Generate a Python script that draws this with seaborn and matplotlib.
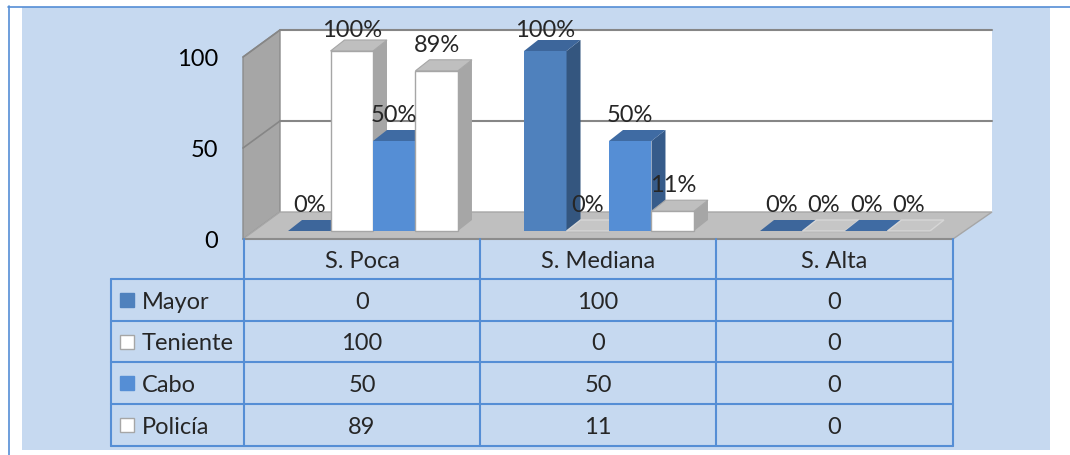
import matplotlib
matplotlib.use("Agg")
import matplotlib.pyplot as plt
from matplotlib.patches import Polygon, Rectangle
import pandas as pd
import seaborn as sns

# ---- data -------------------------------------------------------------
niveles = ["S. Poca", "S. Mediana", "S. Alta"]
rangos = ["Mayor", "Teniente", "Cabo", "Policía"]
mayor = [0, 100, 0]
teniente = [100, 0, 0]
cabo = [50, 50, 0]
policia = [89, 11, 0]
ticks_y = [0, 50, 100]

valores = {"Mayor": mayor, "Teniente": teniente, "Cabo": cabo, "Policía": policia}
df = pd.DataFrame(
    [(n, r, valores[r][i]) for r in rangos for i, n in enumerate(niveles)],
    columns=["nivel", "rango", "valor"],
)

# ---- styles -----------------------------------------------------------
PANEL = "#C6D9F0"
TABLE_LINE = "#558ED5"
front_col = {"Mayor": "#4F81BD", "Teniente": "#FFFFFF", "Cabo": "#558ED5", "Policía": "#FFFFFF"}
top_col = {"Mayor": "#3D669B", "Teniente": "#BFBFBF", "Cabo": "#3F6BA3", "Policía": "#BFBFBF"}
side_col = {"Mayor": "#34567F", "Teniente": "#A6A6A6", "Cabo": "#365B8A", "Policía": "#A6A6A6"}
white_like = {"Teniente", "Policía"}

sns.set_theme(style="white")
plt.rcParams["font.family"] = ["Lato", "DejaVu Sans"]
FS = 17

W, H = 1070, 456
fig = plt.figure(figsize=(W / 100, H / 100), dpi=100)
fig.patch.set_facecolor("white")

# background layer works in pixel units (y downwards)
bg = fig.add_axes([0, 0, 1, 1])
bg.set_xlim(0, W)
bg.set_ylim(H, 0)
bg.axis("off")

# panel
bg.add_patch(Rectangle((22, 8), 1050 - 22, 451 - 8, facecolor=PANEL, edgecolor="none"))
bg.plot([8, W], [7.5, 7.5], color=TABLE_LINE, lw=1.2)
bg.plot([8.5, 8.5], [7, H], color=TABLE_LINE, lw=1.2)

# 3-D walls
FL, BL, BR, FR = 243, 280, 992, 953      # floor corners (x)
FY, BY = 240, 213                        # front / back floor (y)
WALL_PX = 1.82                           # pixels per unit on the walls
top_b = BY - 100 * WALL_PX
top_f = FY - 100 * WALL_PX
bg.add_patch(Rectangle((BL, top_b), BR - BL, BY - top_b, facecolor="white", edgecolor="none"))
bg.add_patch(Polygon([(FL, top_f), (BL, top_b), (BL, BY), (FL, FY)],
                     closed=True, facecolor="#A6A6A6", edgecolor="#8C8C8C", lw=1.0))
bg.add_patch(Polygon([(FL, FY), (BL, BY), (BR, BY), (FR, FY)],
                     closed=True, facecolor="#BFBFBF", edgecolor="#A6A6A6", lw=1.0))
bg.plot([FL, FR], [FY, FY], color="#8C8C8C", lw=1.5)
for v in ticks_y[1:]:
    yb = BY - v * WALL_PX
    yf = FY - v * WALL_PX
    bg.plot([BL, BR], [yb, yb], color="#868686", lw=1.5)
    bg.plot([FL, BL], [yf, yb], color="#868686", lw=1.2)
for v in ticks_y:
    bg.text(218, FY - v * WALL_PX + 8, str(v), ha="right", va="baseline", fontsize=FS, color="black")

# data table
col_x = [244, 480, 716, 953]
leg_x = 111
row_y = [240, 280, 322, 363, 405, 447]
for x in col_x:
    bg.plot([x, x], [row_y[0], row_y[-1]], color=TABLE_LINE, lw=1.5)
bg.plot([leg_x, leg_x], [row_y[1], row_y[-1]], color=TABLE_LINE, lw=1.5)
for y in row_y[1:]:
    bg.plot([leg_x, col_x[-1]], [y, y], color=TABLE_LINE, lw=1.5)
for j, n in enumerate(niveles):
    cx = (col_x[j] + col_x[j + 1]) / 2
    bg.text(cx, (row_y[0] + row_y[1]) / 2 + 8, n, ha="center", va="baseline", fontsize=FS)
for i, r in enumerate(rangos):
    cy = (row_y[i + 1] + row_y[i + 2]) / 2
    edge = "#A6A6A6" if r in white_like else front_col[r]
    bg.add_patch(Rectangle((120, cy - 7), 14, 14, facecolor=front_col[r], edgecolor=edge, lw=1.0))
    bg.text(142, cy + 8, r, ha="left", va="baseline", fontsize=FS)
    for j in range(len(niveles)):
        cx = (col_x[j] + col_x[j + 1]) / 2
        bg.text(cx, cy + 8, str(valores[r][j]), ha="center", va="baseline", fontsize=FS)

# ---- bars -------------------------------------------------------------
CAT_PX = 236        # pixels per category
GROUP_X0 = 373      # pixel centre of the first group of front faces
BASE_PX = 232       # pixel row of the value 0 on the bar plane
VAL_PX = 1.8        # pixels per unit on the bar plane

ax = fig.add_axes([0, 0, 1, 1], zorder=2)
ax.patch.set_alpha(0)
sns.barplot(data=df, x="nivel", y="valor", hue="rango", order=niveles, hue_order=rangos,
            palette=[front_col[r] for r in rangos], saturation=1, width=0.72, gap=0,
            errorbar=None, legend=False, ax=ax)
ax.set_xlim(-GROUP_X0 / CAT_PX, (W - GROUP_X0) / CAT_PX)
ax.set_ylim((BASE_PX - H) / VAL_PX, BASE_PX / VAL_PX)
ax.axis("off")

DX = 14 / CAT_PX
DY = 11 / VAL_PX
LABEL_GAP = 20 / VAL_PX
LABEL_CEIL = (BASE_PX - 37) / VAL_PX

bars = []
for r, cont in zip(rangos, ax.containers):
    for p in cont.patches:
        bars.append((p.get_x(), r, p))
bars.sort(key=lambda t: t[0])

for k, (_, r, p) in enumerate(bars):
    z = 10 + k
    x0, w, h = p.get_x(), p.get_width(), p.get_height()
    x1 = x0 + w
    p.set_zorder(z)
    if r in white_like:
        p.set_edgecolor("#A6A6A6")
        p.set_linewidth(1.0)
    else:
        p.set_edgecolor("none")
    if h > 0:
        top = Polygon([(x0, h), (x0 + DX, h + DY), (x1 + DX, h + DY), (x1, h)], closed=True,
                      facecolor=top_col[r], edgecolor="#A6A6A6" if r in white_like else "none",
                      lw=0.8, zorder=z)
        side = Polygon([(x1, 0), (x1, h), (x1 + DX, h + DY), (x1 + DX, DY)], closed=True,
                       facecolor=side_col[r], edgecolor="none", zorder=z)
        ax.add_patch(side)
        ax.add_patch(top)
    else:
        fc = "#C6C6C6" if r in white_like else top_col[r]
        ec = "#D6D6D6" if r in white_like else "none"
        ax.add_patch(Polygon([(x0, 0), (x0 + DX, DY), (x1 + DX, DY), (x1, 0)], closed=True,
                             facecolor=fc, edgecolor=ec, lw=1.0, zorder=z))
    ly = min(h + LABEL_GAP, LABEL_CEIL)
    ax.text(x0 + w / 2, ly, f"{h:.0f}%", ha="center", va="baseline", fontsize=FS, zorder=50)

fig.savefig("out.png", dpi=100, facecolor="white")
